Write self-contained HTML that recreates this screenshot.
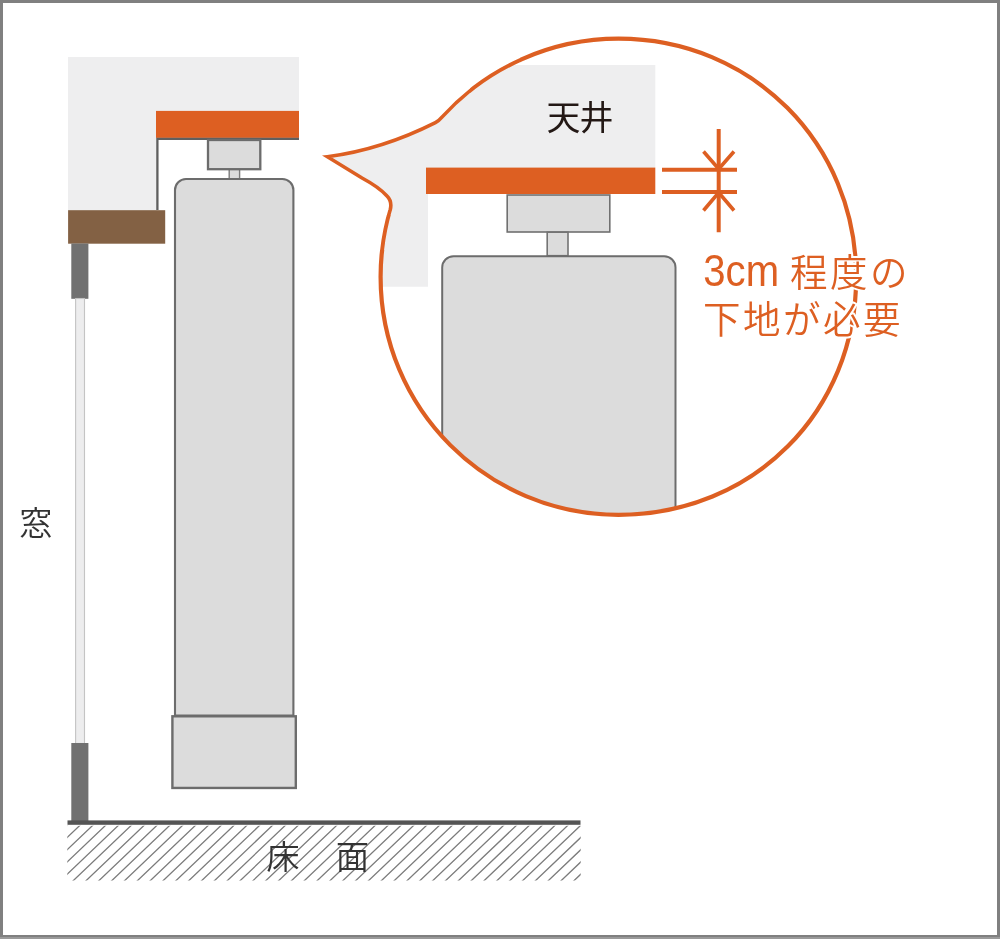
<!DOCTYPE html>
<html lang="ja">
<head>
<meta charset="utf-8">
<title>天井取付図</title>
<style>
html,body{margin:0;padding:0;background:#fff;}
body{width:1000px;height:939px;overflow:hidden;position:relative;}
svg{display:block;position:absolute;left:0;top:0;will-change:transform;}
text{font-family:"Liberation Sans","Noto Sans CJK JP",sans-serif;}
.lbl{font-weight:350;fill:#333;}
.note{font-weight:350;fill:#dd5f22;stroke:#fff;stroke-width:4px;stroke-linejoin:round;paint-order:stroke fill;}
</style>
</head>
<body>
<svg width="1000" height="939" viewBox="0 0 1000 939">
  <defs>
    <clipPath id="floorClip"><rect x="67.3" y="825.7" width="513.4" height="54.8"/></clipPath>
    <clipPath id="tailZone"><rect x="300" y="80" width="170" height="135"/></clipPath>
    <clipPath id="midZone"><path clip-rule="evenodd" d="M300,40 H520 V250 H300 Z M300,80 H470 V215 H300 Z"/></clipPath>
    <clipPath id="mainZone"><path clip-rule="evenodd" d="M0,0 H1000 V939 H0 Z M300,40 H520 V250 H300 Z"/></clipPath>
    <clipPath id="balloonClip">
      <path d="M327.3,156.7 Q381.3,149.8 435.4,122.6 Q438.9,120.8 442.2,116.9 A238.05,238.05 0 0 1 618.5,38.7 C751.8,38.7 856.2,143.6 856.2,276.9 C856.2,411.5 753.1,514.8 618.5,514.8 C487.1,514.8 380.6,408.3 380.6,276.9 A238.05,238.05 0 0 1 390.3,209.5 C391.6,204 391,200 387,196 C382.5,191 375,185 362,178 L327.3,156.7 Z"/>
    </clipPath>
  </defs>

  <!-- page frame -->
  <rect x="0" y="0" width="1000" height="939" fill="#808080"/>
  <rect x="0" y="937" width="1000" height="2" fill="#9a9a9a"/>
  <rect x="3" y="3" width="994" height="932" fill="#ffffff"/>

  <!-- left drawing: ceiling -->
  <path d="M68,57 H299 V112 H157 V211 H68 Z" fill="#eeeeef"/>
  <rect x="156" y="110.9" width="143" height="27" fill="#dd5f22"/>
  <path d="M299,138.8 H157.4 V210" fill="none" stroke="#5f5f5f" stroke-width="2.3"/>
  <rect x="68.1" y="210.2" width="97.1" height="33.5" fill="#836144"/>

  <!-- window -->
  <rect x="71.3" y="243.5" width="17.1" height="55.3" fill="#717171"/>
  <rect x="75.6" y="298.5" width="8.9" height="445" fill="#ededee" stroke="#c4c4c4" stroke-width="1.1"/>
  <rect x="71.3" y="743" width="17.1" height="78" fill="#717171"/>
  <text class="lbl" x="19.2" y="534.8" font-size="33">窓</text>

  <!-- roller unit -->
  <rect x="229.2" y="169" width="10.4" height="10" fill="#dcdcdc" stroke="#7c7c7c" stroke-width="1.4"/>
  <rect x="208" y="140" width="52.3" height="29.2" fill="#dcdcdc" stroke="#6c6c6c" stroke-width="2.3"/>
  <path d="M175,715.5 V190 a11,11 0 0 1 11,-11 H282.4 a11,11 0 0 1 11,11 V715.5 Z" fill="#dcdcdc" stroke="#6c6c6c" stroke-width="2.1"/>
  <rect x="172.4" y="716.3" width="123.4" height="71.65" fill="#dcdcdc" stroke="#6c6c6c" stroke-width="2.4"/>

  <!-- floor -->
  <g clip-path="url(#floorClip)"><path d="M68.80,823.70 L7.10,882.50 M81.64,823.70 L19.94,882.50 M94.48,823.70 L32.78,882.50 M107.32,823.70 L45.62,882.50 M120.16,823.70 L58.46,882.50 M133.00,823.70 L71.30,882.50 M145.84,823.70 L84.14,882.50 M158.68,823.70 L96.98,882.50 M171.52,823.70 L109.82,882.50 M184.36,823.70 L122.66,882.50 M197.20,823.70 L135.50,882.50 M210.04,823.70 L148.34,882.50 M222.88,823.70 L161.18,882.50 M235.72,823.70 L174.02,882.50 M248.56,823.70 L186.86,882.50 M261.40,823.70 L199.70,882.50 M274.24,823.70 L212.54,882.50 M287.08,823.70 L225.38,882.50 M299.92,823.70 L238.22,882.50 M312.76,823.70 L251.06,882.50 M325.60,823.70 L263.90,882.50 M338.44,823.70 L276.74,882.50 M351.28,823.70 L289.58,882.50 M364.12,823.70 L302.42,882.50 M376.96,823.70 L315.26,882.50 M389.80,823.70 L328.10,882.50 M402.64,823.70 L340.94,882.50 M415.48,823.70 L353.78,882.50 M428.32,823.70 L366.62,882.50 M441.16,823.70 L379.46,882.50 M454.00,823.70 L392.30,882.50 M466.84,823.70 L405.14,882.50 M479.68,823.70 L417.98,882.50 M492.52,823.70 L430.82,882.50 M505.36,823.70 L443.66,882.50 M518.20,823.70 L456.50,882.50 M531.04,823.70 L469.34,882.50 M543.88,823.70 L482.18,882.50 M556.72,823.70 L495.02,882.50 M569.56,823.70 L507.86,882.50 M582.40,823.70 L520.70,882.50 M595.24,823.70 L533.54,882.50 M608.08,823.70 L546.38,882.50 M620.92,823.70 L559.22,882.50 M633.76,823.70 L572.06,882.50" fill="none" stroke="#7c7c7c" stroke-width="1.3"/></g>
  <rect x="67.5" y="820.4" width="513" height="4.4" fill="#555"/>
  <text class="lbl" x="266.3" y="868.5" font-size="33.4" letter-spacing="1.35">床　面</text>

  <!-- balloon -->
  <path d="M327.3,156.7 Q381.3,149.8 435.4,122.6 Q438.9,120.8 442.2,116.9 A238.05,238.05 0 0 1 618.5,38.7 C751.8,38.7 856.2,143.6 856.2,276.9 C856.2,411.5 753.1,514.8 618.5,514.8 C487.1,514.8 380.6,408.3 380.6,276.9 A238.05,238.05 0 0 1 390.3,209.5 C391.6,204 391,200 387,196 C382.5,191 375,185 362,178 L327.3,156.7 Z" fill="#ffffff"/>
  <g clip-path="url(#balloonClip)">
    <path d="M300,65 H655.3 V168 H428 V286.8 H300 Z" fill="#eeeeef"/>
    <rect x="426" y="167.6" width="229.3" height="26.4" fill="#dd5f22"/>
    <rect x="507.2" y="195" width="102.6" height="37" fill="#dcdcdc" stroke="#707070" stroke-width="1.6"/>
    <rect x="547.2" y="232.2" width="20.8" height="23.5" fill="#dcdcdc" stroke="#747474" stroke-width="1.6"/>
    <path d="M442.2,540 V267.5 a11.3,11.3 0 0 1 11.3,-11.3 H664.2 a11.3,11.3 0 0 1 11.3,11.3 V540 Z" fill="#dcdcdc" stroke="#6c6c6c" stroke-width="2"/>
  </g>
  <g fill="none" stroke="#dd5f22" stroke-linejoin="miter">
    <path d="M327.3,156.7 Q381.3,149.8 435.4,122.6 Q438.9,120.8 442.2,116.9 A238.05,238.05 0 0 1 618.5,38.7 C751.8,38.7 856.2,143.6 856.2,276.9 C856.2,411.5 753.1,514.8 618.5,514.8 C487.1,514.8 380.6,408.3 380.6,276.9 A238.05,238.05 0 0 1 390.3,209.5 C391.6,204 391,200 387,196 C382.5,191 375,185 362,178 L327.3,156.7 Z" stroke-width="3.6" clip-path="url(#tailZone)"/>
    <path d="M327.3,156.7 Q381.3,149.8 435.4,122.6 Q438.9,120.8 442.2,116.9 A238.05,238.05 0 0 1 618.5,38.7 C751.8,38.7 856.2,143.6 856.2,276.9 C856.2,411.5 753.1,514.8 618.5,514.8 C487.1,514.8 380.6,408.3 380.6,276.9 A238.05,238.05 0 0 1 390.3,209.5 C391.6,204 391,200 387,196 C382.5,191 375,185 362,178 L327.3,156.7 Z" stroke-width="3.9" clip-path="url(#midZone)"/>
    <path d="M327.3,156.7 Q381.3,149.8 435.4,122.6 Q438.9,120.8 442.2,116.9 A238.05,238.05 0 0 1 618.5,38.7 C751.8,38.7 856.2,143.6 856.2,276.9 C856.2,411.5 753.1,514.8 618.5,514.8 C487.1,514.8 380.6,408.3 380.6,276.9 A238.05,238.05 0 0 1 390.3,209.5 C391.6,204 391,200 387,196 C382.5,191 375,185 362,178 L327.3,156.7 Z" stroke-width="4.2" clip-path="url(#mainZone)"/>
  </g>

  <!-- dimension mark -->
  <g fill="none" stroke="#dd5f22" stroke-width="4">
    <path d="M662,169.8 H737 M662,191.9 H737 M718.7,129 V232.3"/>
    <path d="M703.5,151.5 L718.7,169 L734,151.5 M703.5,210.5 L718.7,192.5 L734,210.5" stroke-width="3.6"/>
  </g>

  <!-- note -->
  <text class="note" x="703.3" y="286" font-size="37.5"><tspan font-size="43.6" textLength="75.8" lengthAdjust="spacingAndGlyphs">3cm</tspan> <tspan x="790" letter-spacing="2.5">程度の</tspan></text>
  <text class="note" x="703" y="333" font-size="37.5" letter-spacing="2.5">下地が必要</text>
  <text class="lbl" x="546.4" y="129.8" font-size="34" letter-spacing="-1" style="font-weight:400;fill:#231815">天井</text>
</svg>
</body>
</html>
